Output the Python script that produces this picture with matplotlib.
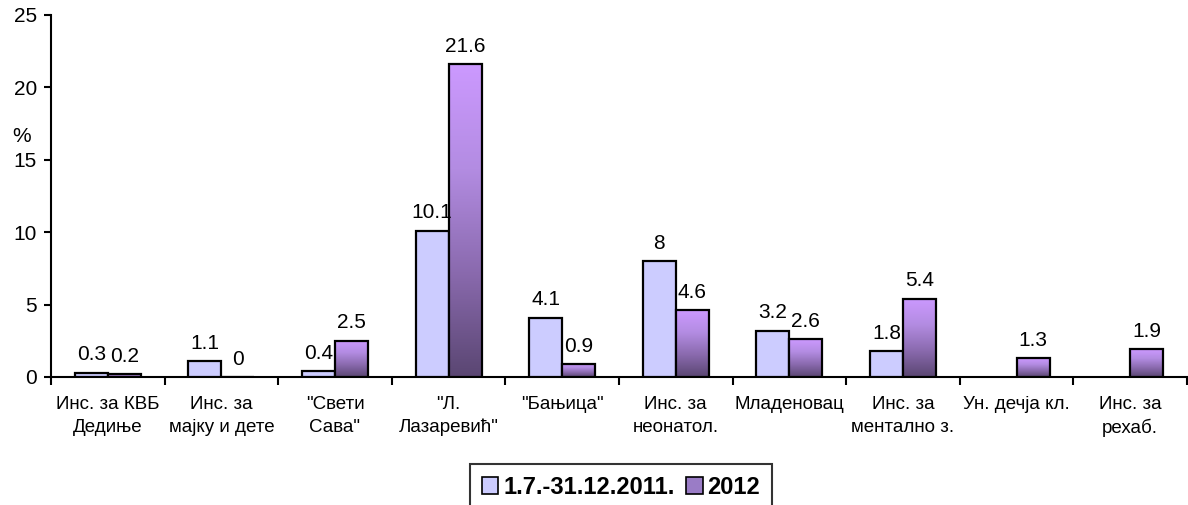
import numpy as np
import matplotlib
matplotlib.use("Agg")
import matplotlib.pyplot as plt
from matplotlib.colors import LinearSegmentedColormap
from matplotlib.patches import Patch

# chart data
categories = [
    "Инс. за КВБ\nДедиње",
    "Инс. за\nмајку и дете",
    "\"Свети\nСава\"",
    "\"Л.\nЛазаревић\"",
    "\"Бањица\"",
    "Инс. за\nнеонатол.",
    "Младеновац",
    "Инс. за\nментално з.",
    "Ун. дечја кл.",
    "Инс. за\nрехаб.",
]
series_names = ["1.7.-31.12.2011.", "2012"]
values_2011 = [0.3, 1.1, 0.4, 10.1, 4.1, 8, 3.2, 1.8, np.nan, np.nan]
values_2012 = [0.2, 0, 2.5, 21.6, 0.9, 4.6, 2.6, 5.4, 1.3, 1.9]
y_ticks = [0, 5, 10, 15, 20, 25]

plt.rcParams['font.family'] = ['Liberation Sans', 'DejaVu Sans']

fig = plt.figure(figsize=(11.88, 5.05), dpi=100)
ax = fig.add_axes([51 / 1188, 1 - 377 / 505, (1187 - 51) / 1188, (377 - 15) / 505])

n = len(categories)
x = np.arange(n)
bw = 0.29
c2011 = "#CCCCFF"
grad_cmap = LinearSegmentedColormap.from_list(
    "purp", ["#5A4672", "#8A6AAE", "#B38CE2", "#CC99FF"])

bars1 = ax.bar(x - bw / 2, values_2011, bw, color=c2011,
               edgecolor="black", linewidth=1.6, zorder=3)
bars2 = ax.bar(x + bw / 2, values_2012, bw, facecolor="none",
               edgecolor="black", linewidth=1.6, zorder=4)

# vertical gradient inside each 2012 bar
grad = np.linspace(0, 1, 256).reshape(-1, 1)
for b in bars2:
    h = b.get_height()
    if h <= 0:
        continue
    bx = b.get_x()
    im = ax.imshow(grad, extent=[bx, bx + b.get_width(), 0, h], origin="lower",
                   aspect="auto", cmap=grad_cmap, zorder=3)
    im.set_clip_path(b)

# data labels
for xi, v in zip(x, values_2011):
    if np.isnan(v):
        continue
    ax.annotate(f"{v:g}", (xi - bw / 2, v), xytext=(0, 6), textcoords="offset points",
                ha="center", va="bottom", fontsize=15)
for xi, v in zip(x, values_2012):
    ax.annotate(f"{v:g}", (xi + bw / 2, v), xytext=(0, 6), textcoords="offset points",
                ha="center", va="bottom", fontsize=15)

ax.set_xlim(-0.5, n - 0.5)
ax.set_ylim(0, 25)
ax.set_yticks(y_ticks)
ax.tick_params(axis="y", labelsize=15, length=5, width=1.5, direction="out", pad=5)

# category labels between boundary ticks
ax.set_xticks(np.arange(n + 1) - 0.5)
ax.set_xticklabels([])
ax.tick_params(axis="x", length=6, width=1.5, direction="out")
ax.set_xticks(x, minor=True)
ax.set_xticklabels(categories, minor=True, fontsize=13.5, linespacing=1.4)
ax.tick_params(axis="x", which="minor", length=0, pad=14)

for s in ["top", "right"]:
    ax.spines[s].set_visible(False)
for s in ["left", "bottom"]:
    ax.spines[s].set_linewidth(1.5)

fig.text(12 / 1188, 1 - 137 / 505, "%", fontsize=15, ha="left", va="center")

handles = [Patch(facecolor=c2011, edgecolor="black", linewidth=1.2),
           Patch(facecolor="#9A7CC6", edgecolor="black", linewidth=1.2)]
leg = fig.legend(handles, series_names, loc="upper center",
                 bbox_to_anchor=(621 / 1188, 1 - 464 / 505), ncol=2,
                 prop={"weight": "bold", "size": 17}, frameon=True, fancybox=False,
                 handlelength=0.7, handleheight=0.7, handletextpad=0.2,
                 columnspacing=0.5, borderpad=0.5, borderaxespad=0)
leg.get_frame().set_edgecolor("black")
leg.get_frame().set_linewidth(1.5)

fig.savefig("out.png", dpi=100)
